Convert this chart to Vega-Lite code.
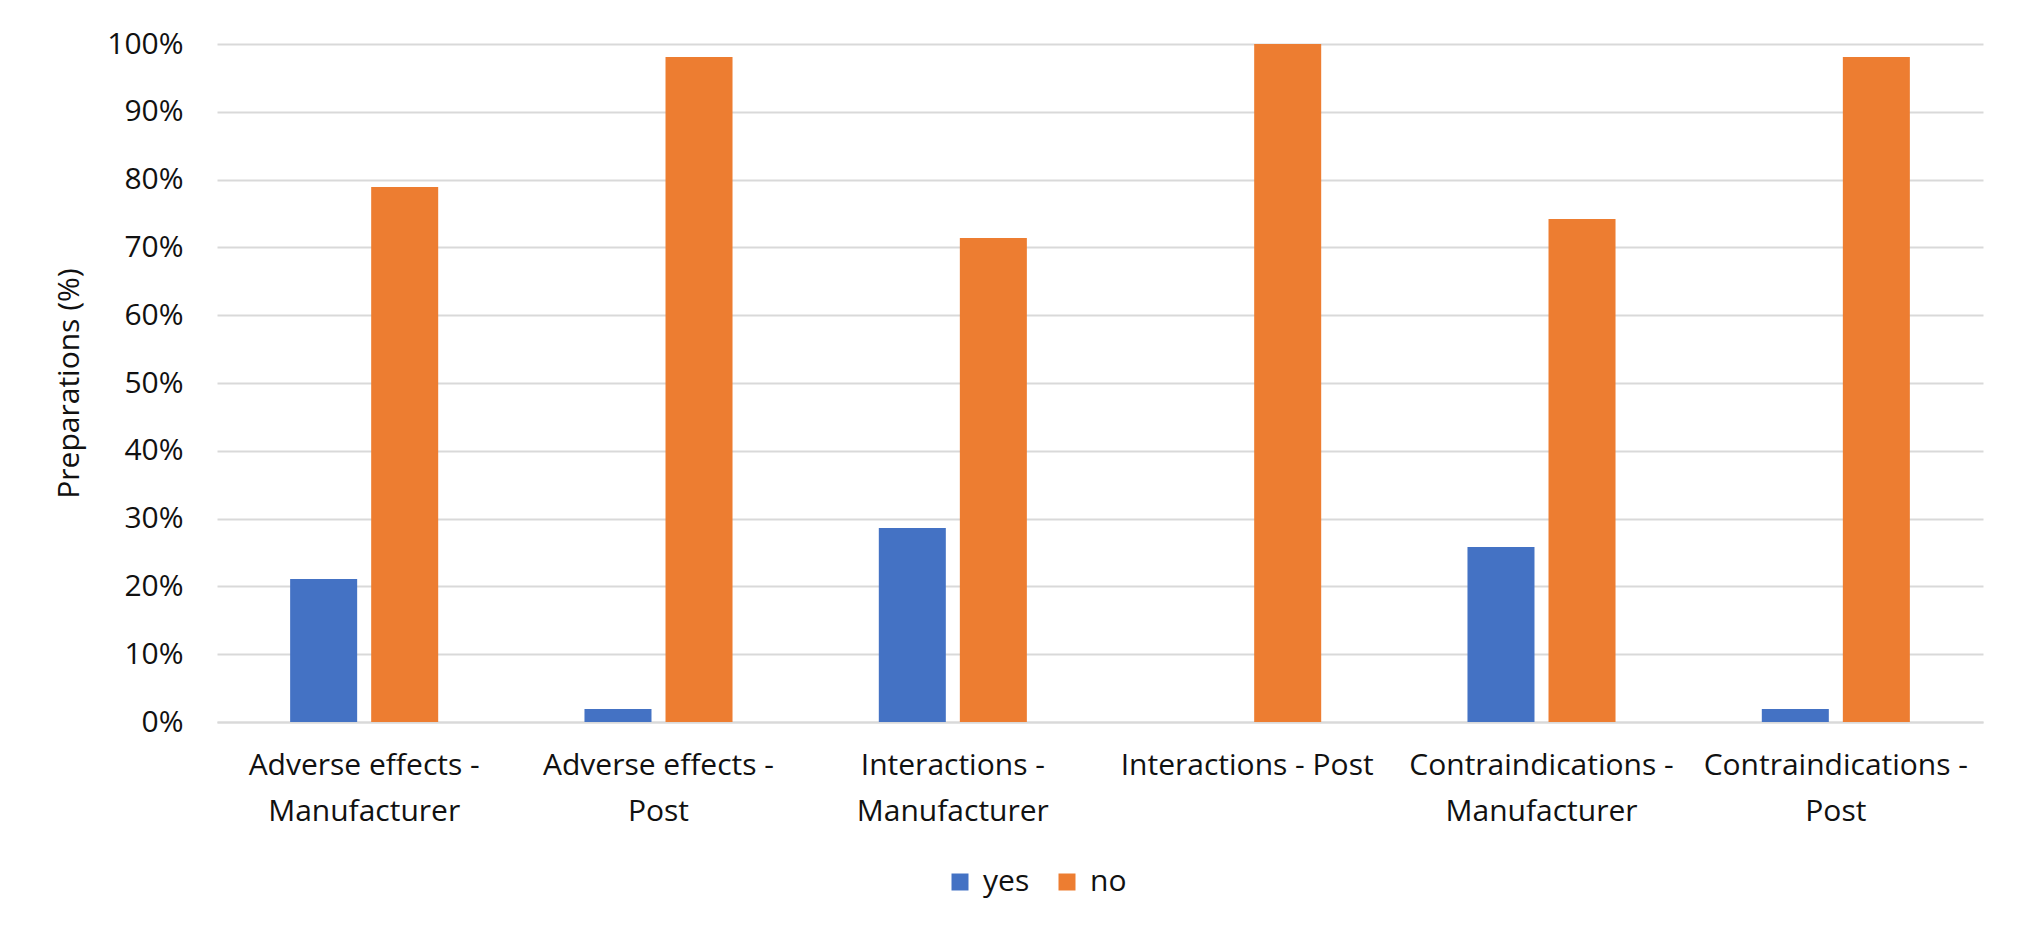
{
  "$schema": "https://vega.github.io/schema/vega-lite/v6.json",
  "autosize": {"type": "none"},
  "padding": {"left": 217, "top": 44, "right": 49, "bottom": 220},
  "width": 1766,
  "height": 678,
  "background": "white",
  "config": {
    "font": "Open Sans",
    "view": {"stroke": null},
    "axis": {"labelFont": "Open Sans", "titleFont": "Open Sans", "labelColor": "#111111", "titleColor": "#111111"},
    "legend": {"labelFont": "Open Sans"}
  },
  "data": {
    "values": [
      {"category": "Adverse effects - Manufacturer", "answer": "yes", "pct": 21.1},
      {"category": "Adverse effects - Manufacturer", "answer": "no", "pct": 78.9},
      {"category": "Adverse effects - Post", "answer": "yes", "pct": 1.9},
      {"category": "Adverse effects - Post", "answer": "no", "pct": 98.1},
      {"category": "Interactions - Manufacturer", "answer": "yes", "pct": 28.6},
      {"category": "Interactions - Manufacturer", "answer": "no", "pct": 71.4},
      {"category": "Interactions - Post", "answer": "yes", "pct": 0},
      {"category": "Interactions - Post", "answer": "no", "pct": 100},
      {"category": "Contraindications - Manufacturer", "answer": "yes", "pct": 25.8},
      {"category": "Contraindications - Manufacturer", "answer": "no", "pct": 74.2},
      {"category": "Contraindications - Post", "answer": "yes", "pct": 1.9},
      {"category": "Contraindications - Post", "answer": "no", "pct": 98.1}
    ]
  },
  "mark": {"type": "bar"},
  "encoding": {
    "x": {
      "field": "category",
      "type": "nominal",
      "sort": null,
      "scale": {"paddingInner": 0.497, "paddingOuter": 0.2485},
      "axis": {
        "title": null,
        "labelAngle": 0,
        "labelFontSize": 30,
        "labelLineHeight": 46,
        "labelPadding": 28,
        "ticks": false,
        "tickSize": 0,
        "domain": true,
        "domainColor": "#d9d9d9",
        "domainWidth": 2,
        "labelLimit": 400,
        "labelExpr": "datum.label == 'Interactions - Post' ? datum.label : [split(datum.label, ' - ')[0] + ' -', split(datum.label, ' - ')[1]]"
      }
    },
    "xOffset": {
      "field": "answer",
      "type": "nominal",
      "sort": ["yes", "no"],
      "scale": {"paddingInner": 0.173, "paddingOuter": 0}
    },
    "y": {
      "field": "pct",
      "type": "quantitative",
      "scale": {"domain": [0, 100]},
      "axis": {
        "title": "Preparations (%)",
        "titleFontSize": 30,
        "titleFontWeight": "normal",
        "titlePadding": 22,
        "values": [0, 10, 20, 30, 40, 50, 60, 70, 80, 90, 100],
        "labelExpr": "datum.value + '%'",
        "labelFontSize": 30,
        "labelPadding": 34,
        "ticks": false,
        "tickSize": 0,
        "domain": false,
        "grid": true,
        "gridColor": "#d9d9d9",
        "gridWidth": 2
      }
    },
    "color": {
      "field": "answer",
      "type": "nominal",
      "sort": ["yes", "no"],
      "scale": {"domain": ["yes", "no"], "range": ["#4472C4", "#ED7D31"]},
      "legend": {
        "title": null,
        "orient": "none",
        "direction": "horizontal",
        "legendX": 728,
        "legendY": 823,
        "symbolType": "square",
        "symbolSize": 289,
        "symbolStrokeWidth": 0,
        "labelFontSize": 30,
        "labelColor": "#111111",
        "labelOffset": 8,
        "columnPadding": 22
      }
    }
  }
}
